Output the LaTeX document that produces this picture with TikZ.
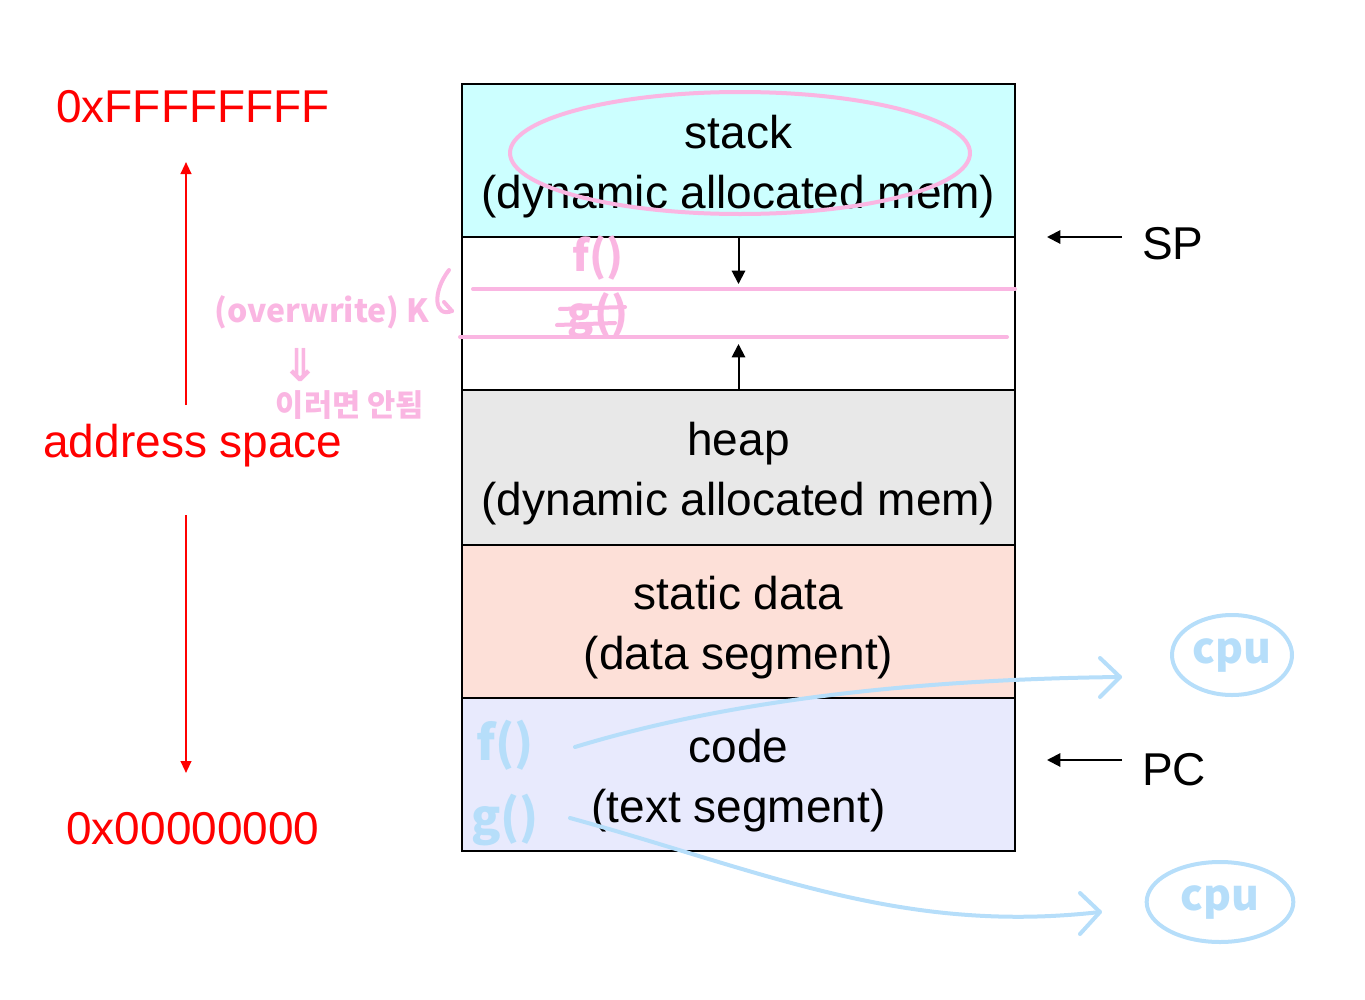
\documentclass[tikz,border=0pt]{standalone}
\usepackage{fontspec}
\setmainfont{Liberation Sans}
\newfontfamily\kr{Noto Sans CJK KR}
\newfontfamily\dv{DejaVu Sans}
\usetikzlibrary{arrows.meta,shapes.geometric}
\definecolor{stackc}{RGB}{204,255,255}
\definecolor{heapc}{RGB}{232,232,232}
\definecolor{datac}{RGB}{253,224,216}
\definecolor{codec}{RGB}{232,234,253}
\definecolor{penpink}{RGB}{250,182,226}
\definecolor{penblue}{RGB}{182,222,250}
\begin{document}
\begin{tikzpicture}[x=0.75pt,y=-0.75pt,
  seg/.style={draw=black, line width=1.5pt, minimum width=414.75pt, minimum height=114.75pt,
    inner sep=0pt},
  segtxt/.style={inner sep=0pt, align=center, font=\fontsize{34.5}{45}\selectfont},
  big/.style={inner sep=0pt, font=\fontsize{34.5}{41}\selectfont},
  redtxt/.style={big, text=red},
  blk/.style={draw=black, line width=1.5pt, -{Triangle[length=10pt,width=10pt]}},
  redarr/.style={draw=red, line width=1.5pt, -{Triangle[length=9pt,width=8pt]}},
  pinkpen/.style={draw=penpink, line width=3pt, line cap=round, line join=round},
  bluepen/.style={draw=penblue, line width=3pt, line cap=round, line join=round},
  pinktxt/.style={inner sep=0pt, text=penpink, font=\kr\bfseries\fontsize{#1}{#1}\selectfont},
  bluetxt/.style={inner sep=0pt, text=penblue, font=\kr\bfseries\fontsize{#1}{#1}\selectfont},
  cpu/.style={ellipse, draw=penblue, line width=3pt, inner sep=0pt, text=penblue,
    font=\kr\bfseries\fontsize{32}{32}\selectfont}
]
\useasboundingbox (0,0) rectangle (1365,1000);

% memory segments
\node[seg, fill=stackc] (stack) at (738.5,160.5) {};
\node[seg, fill=white] (free) at (738.5,313.5) {};
\node[seg, fill=heapc, minimum height=116.25pt] (heap) at (738.5,467.5) {};
\node[seg, fill=datac] (data) at (738.5,621.5) {};
\node[seg, fill=codec] (code) at (738.5,774.5) {};
\node[segtxt] (stacktxt) at ([yshift=-4.5pt]stack.center) {stack\\(dynamic allocated mem)};
\node[segtxt] (heaptxt) at ([yshift=-4.5pt]heap.center) {heap\\(dynamic allocated mem)};
\node[segtxt] (datatxt) at ([yshift=-4.5pt]data.center) {static data\\(data segment)};
\node[segtxt] (codetxt) at ([yshift=-4.5pt]code.center) {code\\(text segment)};

% growth arrows
\coordinate (dntip) at (738.5,284);
\coordinate (uptip) at (738.5,344);
\draw[blk] (stack.south) -- (dntip);
\draw[blk] (heap.north) -- (uptip);

% SP / PC
\node[big, anchor=west] (sp) at (1142,244) {SP};
\node[big, anchor=west] (pc) at (1142,770) {PC};
\coordinate (spfrom) at (1122,237);
\coordinate (spto) at (1047,237);
\coordinate (pcfrom) at (1122,760);
\coordinate (pcto) at (1047,760);
\draw[blk] (spfrom) -- (spto);
\draw[blk] (pcfrom) -- (pcto);

% address labels
\node[redtxt] (top) at (193,107) {0xFFFFFFFF};
\node[redtxt] (addr) at (193,446) {address space};
\node[redtxt] (bot) at (193,829) {0x00000000};
\coordinate (r1a) at (186,405);
\coordinate (r1b) at (186,162);
\coordinate (r2a) at (186,515);
\coordinate (r2b) at (186,773);
\draw[redarr] (r1a) -- (r1b);
\draw[redarr] (r2a) -- (r2b);

% pink annotations
\draw[pinkpen] (740,153) ellipse [x radius=230, y radius=61];
\draw[pinkpen] (473,289) -- (1015,289);
\draw[pinkpen] (460,337) -- (1007,337);
\node[pinktxt=32] (pf) at (598,258) {f()};
\node[pinktxt=32] (pg) at (598,316) {g()};
\draw[pinkpen] (560,309) -- (625,307);
\draw[pinkpen] (557,325) -- (615,323);
\node[pinktxt=24] (ow) at (322,312) {(overwrite) K};
\draw[pinkpen] (449,270) .. controls (432,292) and (434,318) .. (452,311);
\draw[pinkpen] (444,302) -- (452,311);
\node[inner sep=0pt, text=penpink, font=\dv\bfseries\fontsize{34}{34}\selectfont] (dar) at (300,365) {⇓};
\node[pinktxt=23] (kr) at (350,405) {이러면 안됨};

% blue annotations
\node[bluetxt=36] (bf) at (505,745) {f()};
\node[bluetxt=36] (bg) at (505,820) {g()};
\node[cpu, minimum width=90pt, minimum height=60pt] (cpu1) at (1232,655) {cpu};
\node[cpu, minimum width=110pt, minimum height=60pt] (cpu2) at (1220,902) {cpu};
\coordinate (f0) at (575,747);
\coordinate (f1) at (1120,677);
\coordinate (g0) at (570,818);
\coordinate (g1) at (1100,912);
\draw[bluepen] (f0) .. controls (680,715) and (850,680) .. (f1);
\draw[bluepen] (1100,658) -- (f1) -- (1100,697);
\draw[bluepen] (g0) .. controls (760,870) and (900,935) .. (g1);
\draw[bluepen] (1080,893) -- (g1) -- (1080,934);
\end{tikzpicture}
\end{document}
